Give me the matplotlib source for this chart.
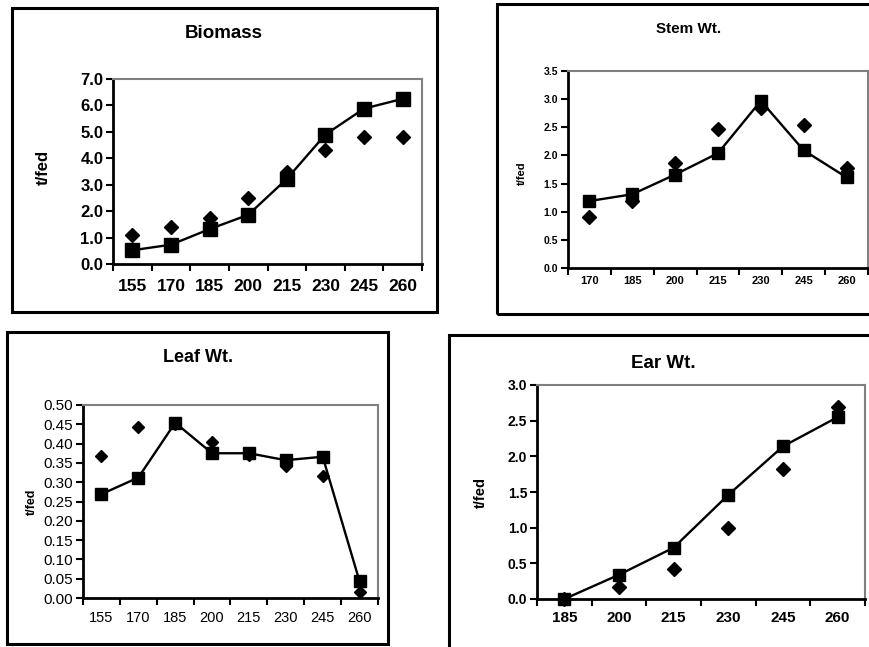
import numpy as np
import matplotlib as mpl
mpl.use('Agg')
import matplotlib.pyplot as plt
from matplotlib.patches import Rectangle

plt.rcParams['font.family'] = ['Liberation Sans', 'DejaVu Sans']

# ---- data ----
bio_days = ['155', '170', '185', '200', '215', '230', '245', '260']
bio_sim = [0.52, 0.73, 1.32, 1.86, 3.22, 4.90, 5.88, 6.25]
bio_obs = [1.11, 1.40, 1.74, 2.48, 3.48, 4.32, 4.82, 4.82]

stem_days = ['170', '185', '200', '215', '230', '245', '260']
stem_sim = [1.19, 1.31, 1.66, 2.04, 2.97, 2.09, 1.61]
stem_obs = [0.90, 1.19, 1.86, 2.47, 2.84, 2.54, 1.77]

leaf_days = ['155', '170', '185', '200', '215', '230', '245', '260']
leaf_sim = [0.269, 0.312, 0.454, 0.375, 0.375, 0.357, 0.366, 0.043]
leaf_obs = [0.368, 0.444, 0.452, 0.405, 0.370, 0.342, 0.317, 0.016]

ear_days = ['185', '200', '215', '230', '245', '260']
ear_sim = [0.0, 0.34, 0.72, 1.46, 2.14, 2.55]
ear_obs = [0.0, 0.17, 0.42, 1.00, 1.82, 2.69]

W, H = 870, 647
fig = plt.figure(figsize=(W / 100, H / 100), dpi=100)


def px_axes(l, t, r, b):
    return fig.add_axes([l / W, 1 - b / H, (r - l) / W, (b - t) / H])


def box(l, t, r, b):
    fig.patches.append(Rectangle((l / W, 1 - b / H), (r - l) / W, (b - t) / H,
                                 transform=fig.transFigure, fill=False,
                                 edgecolor='black', linewidth=2.2, zorder=0))


def panel(ax, days, sim, obs, ylim, yticks, yfmt, xfs, yfs, weight, ms, lab_xy, lab_fs, xpad):
    x = np.arange(len(days))
    ax.plot(x, obs, linestyle='none', marker='D', color='black', markersize=ms * 0.78,
            clip_on=False, zorder=3)
    ax.plot(x, sim, color='black', linewidth=1.7, marker='s', markersize=ms,
            clip_on=False, zorder=4)
    ax.set_xlim(-0.5, len(days) - 0.5)
    ax.set_ylim(*ylim)
    ax.set_yticks(yticks)
    ax.set_yticklabels([yfmt.format(v) for v in yticks], fontsize=yfs, fontweight=weight)
    ax.set_xticks(np.arange(len(days) + 1) - 0.5)
    ax.set_xticklabels([])
    ax.set_xticks(x, minor=True)
    ax.set_xticklabels(days, minor=True, fontsize=xfs, fontweight=weight)
    ax.tick_params(axis='x', which='major', direction='out', length=5, width=1.5)
    ax.tick_params(axis='x', which='minor', length=0, pad=xpad)
    ax.tick_params(axis='y', direction='out', length=5, width=1.5, pad=2)
    for s in ['left', 'bottom']:
        ax.spines[s].set_color('black')
        ax.spines[s].set_linewidth(2)
    for s in ['top', 'right']:
        ax.spines[s].set_color('#808080')
        ax.spines[s].set_linewidth(1.5)
    ax.set_ylabel('t/fed', fontsize=lab_fs, fontweight='bold')
    ax.yaxis.set_label_coords(*lab_xy)


# Biomass
box(12, 8, 437, 312)
ax1 = px_axes(113, 79, 422, 264)
panel(ax1, bio_days, bio_sim, bio_obs, (0, 7), np.arange(0, 7.1, 1.0), '{:.1f}',
      12.5, 12, 'bold', 9.5, (-0.20, 0.52), 12, 11)
fig.text(224 / W, 1 - 34 / H, 'Biomass', ha='center', va='center', fontsize=13.5, fontweight='bold')

# Stem
box(497, 4, 874, 314)
ax2 = px_axes(568, 71, 868, 268)
panel(ax2, stem_days, stem_sim, stem_obs, (0, 3.5), np.arange(0, 3.51, 0.5), '{:.1f}',
      8, 7.5, 'bold', 8.5, (-0.137, 0.48), 8, 6)
fig.text(689 / W, 1 - 29 / H, 'Stem Wt.', ha='center', va='center', fontsize=11, fontweight='bold')

# Leaf
box(7, 332, 388, 644)
ax3 = px_axes(83, 405, 378, 598)
panel(ax3, leaf_days, leaf_sim, leaf_obs, (0, 0.5), np.arange(0, 0.501, 0.05), '{:.2f}',
      10.5, 11, 'normal', 8, (-0.153, 0.50), 9, 9)
fig.text(198 / W, 1 - 357 / H, 'Leaf Wt.', ha='center', va='center', fontsize=13, fontweight='bold')

# Ear
box(449, 335, 876, 652)
ax4 = px_axes(537, 385, 865, 599)
panel(ax4, ear_days, ear_sim, ear_obs, (0, 3.0), np.arange(0, 3.01, 0.5), '{:.1f}',
      11, 10, 'bold', 9, (-0.15, 0.50), 10.5, 9)
fig.text(663 / W, 1 - 363 / H, 'Ear Wt.', ha='center', va='center', fontsize=13.5, fontweight='bold')

fig.savefig('out.png', dpi=100)
